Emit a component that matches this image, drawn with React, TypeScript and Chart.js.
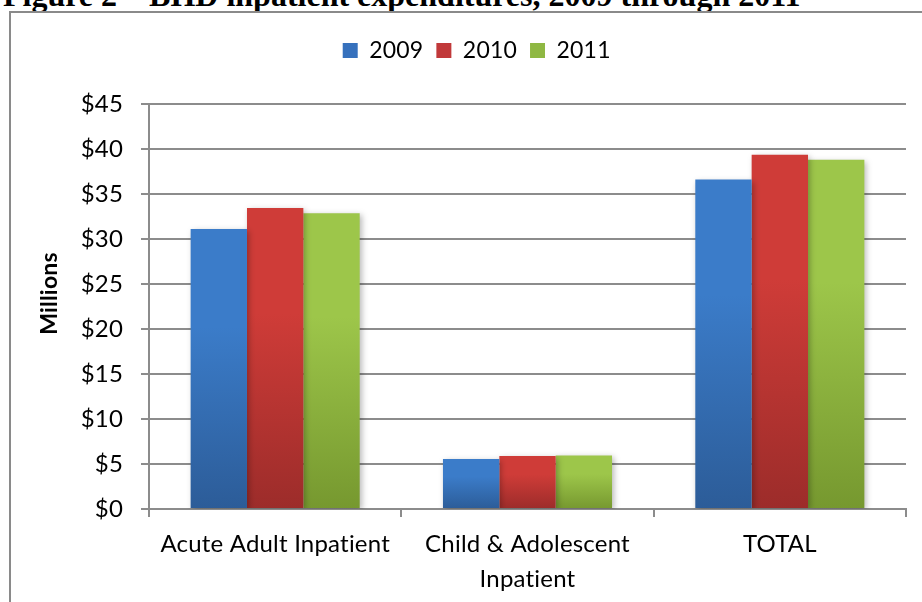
import React, { useEffect, useRef } from "react";
import { Chart, registerables } from "chart.js";

Chart.register(...registerables);

const categories: string[][] = [
  ["Acute Adult Inpatient"],
  ["Child & Adolescent", "Inpatient"],
  ["TOTAL"],
];
const seriesNames = ["2009", "2010", "2011"];
const values2009 = [31.1, 5.55, 36.6];
const values2010 = [33.45, 5.9, 39.35];
const values2011 = [32.85, 5.95, 38.8];
const yTickValues = [0, 5, 10, 15, 20, 25, 30, 35, 40, 45];

// top / bottom shades of each series' bar gradient
const seriesShades: [string, string][] = [
  ["#3b7cc9", "#2c5c98"],
  ["#cf3c38", "#9c2c2a"],
  ["#9dc64a", "#76982f"],
];
const legendColors = ["#3671bd", "#c1393a", "#8fb843"];

const FONT = "Lato, 'Open Sans', sans-serif";
const GRID = "#8c8c8c";

// soft drop shadow behind the bars
const barShadow = {
  id: "barShadow",
  beforeDatasetsDraw(chart: any) {
    const ctx = chart.ctx;
    ctx.save();
    ctx.shadowColor = "rgba(0,0,0,0.28)";
    ctx.shadowBlur = 6;
    ctx.shadowOffsetX = 2;
    ctx.shadowOffsetY = 2;
  },
  afterDatasetsDraw(chart: any) {
    chart.ctx.restore();
  },
};

// plain glyphs (no "ti" ligature) for all canvas text
const textStyle = {
  id: "textStyle",
  beforeDraw(chart: any) {
    (chart.ctx as any).letterSpacing = "0.2px";
  },
};

const PLOT_TOP = 104;
const PAD_TOP = 26;

// reserve the gap between the legend row and the plot area
const legendSpace = {
  id: "legendSpace",
  beforeInit(chart: any) {
    const legend = chart.legend;
    if (!legend) return;
    const fit = legend.fit.bind(legend);
    legend.fit = function () {
      fit();
      this.height = PLOT_TOP - PAD_TOP;
    };
  },
};

// lift the y-axis title a little above the plot's middle
const yTitleLift = {
  id: "yTitleLift",
  afterLayout(chart: any) {
    const ys = chart.scales.y;
    if (!ys || ys._lifted) return;
    const orig = ys.drawTitle.bind(ys);
    ys.drawTitle = function () {
      chart.ctx.save();
      chart.ctx.translate(0, -13);
      orig();
      chart.ctx.restore();
    };
    ys._lifted = true;
  },
};

function gradientFill(i: number) {
  return (ctx: any) => {
    const chart = ctx.chart;
    const [top, bottom] = seriesShades[i];
    if (ctx.type !== "data" || !chart.chartArea) return top;
    const y = chart.scales.y;
    const y0 = y.getPixelForValue(ctx.parsed.y);
    const y1 = y.getPixelForValue(0);
    const g = chart.ctx.createLinearGradient(0, y0, 0, y1);
    g.addColorStop(0, top);
    g.addColorStop(0.35, top);
    g.addColorStop(1, bottom);
    return g;
  };
}

export default function App() {
  const canvasRef = useRef<HTMLCanvasElement | null>(null);

  useEffect(() => {
    const canvas = canvasRef.current;
    if (!canvas) return;
    const series = [values2009, values2010, values2011];
    const chart = new Chart(canvas, {
      type: "bar",
      data: {
        labels: categories,
        datasets: seriesNames.map((name, i) => ({
          label: name,
          data: series[i],
          backgroundColor: gradientFill(i),
          borderWidth: 0,
          barPercentage: 1,
          categoryPercentage: 0.67,
        })),
      },
      options: {
        responsive: false,
        animation: false,
        events: [],
        layout: { padding: { left: 45, right: 16, top: PAD_TOP, bottom: 0 } },
        plugins: {
          tooltip: { enabled: false },
          legend: {
            position: "top",
            labels: {
              color: "#000",
              font: { family: FONT, size: 23 },
              boxWidth: 15,
              boxHeight: 15,
              padding: 13,
              generateLabels: (ch: any) =>
                ch.data.datasets.map((ds: any, i: number) => ({
                  text: ds.label,
                  fillStyle: legendColors[i],
                  strokeStyle: legendColors[i],
                  lineWidth: 0,
                  hidden: false,
                  datasetIndex: i,
                  fontColor: "#000",
                })),
            },
          },
        },
        scales: {
          x: {
            grid: {
              display: true,
              drawOnChartArea: false,
              drawTicks: true,
              tickLength: 8,
              offset: true,
              color: GRID,
              lineWidth: 2,
            },
            border: { display: true, color: GRID, width: 2 },
            ticks: {
              color: "#000",
              padding: 10,
              maxRotation: 0,
              autoSkip: false,
              font: { family: FONT, size: 24, lineHeight: 1.44 },
            },
            afterFit: (s: any) => {
              s.height = 93;
            },
          },
          y: {
            min: 0,
            max: 45,
            afterBuildTicks: (s: any) => {
              s.ticks = yTickValues.map((v) => ({ value: v }));
            },
            grid: {
              color: GRID,
              lineWidth: 2,
              drawTicks: true,
              tickLength: 8,
            },
            border: { display: true, color: GRID, width: 2 },
            ticks: {
              color: "#000",
              padding: 18,
              font: { family: FONT, size: 24 },
              callback: (v: any) => "$" + v,
            },
            title: {
              display: true,
              text: "Millions",
              color: "#000",
              font: { family: FONT, size: 23, weight: "bold", lineHeight: 1.2 },
              padding: { top: -8.8, bottom: 0 },
            },
            afterFit: (s: any) => {
              s.width = 104;
            },
          },
        },
      },
      plugins: [textStyle, barShadow, legendSpace, yTitleLift],
    } as any);
    return () => chart.destroy();
  }, []);

  return (
    <div
      style={{
        position: "fixed",
        left: 0,
        top: 0,
        width: 922,
        height: 602,
        overflow: "hidden",
        background: "#fff",
      }}
    >
      <div
        style={{
          position: "absolute",
          left: 3,
          top: -21,
          whiteSpace: "nowrap",
          fontFamily: "'Liberation Serif', 'Times New Roman', serif",
          fontWeight: "bold",
          fontSize: 32,
          lineHeight: "32px",
          color: "#000",
        }}
      >
        Figure 2 – BHD inpatient expenditures, 2009 through 2011
      </div>
      <div
        style={{
          position: "absolute",
          left: 9,
          top: 11,
          width: 2000,
          height: 2000,
          border: "2px solid #8a8a8a",
        }}
      />
      <canvas
        ref={canvasRef}
        width={922}
        height={602}
        style={{ position: "absolute", left: 0, top: 0, width: 922, height: 602 }}
      />
    </div>
  );
}
